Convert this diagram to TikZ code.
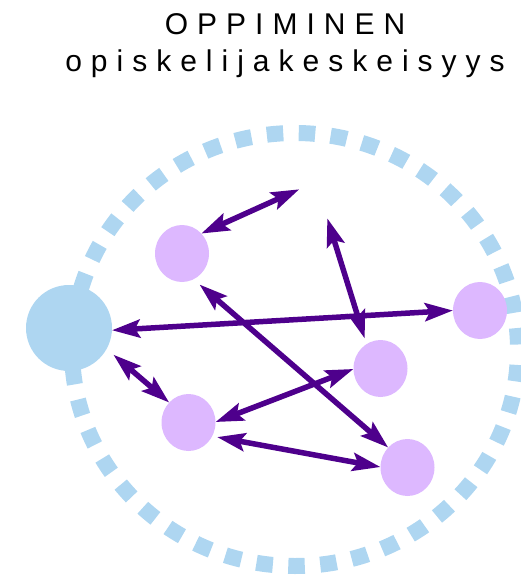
\documentclass[tikz,border=0pt]{standalone}
\usepackage{fontspec}
\setmainfont{Liberation Sans}
\usetikzlibrary{arrows.meta,shapes.geometric}
\definecolor{ringblue}{RGB}{174,214,241}
\definecolor{lilac}{RGB}{221,184,255}
\definecolor{indigo}{RGB}{78,0,140}
\tikzset{
    pupilnode/.style = {
        ellipse,
        fill=lilac,
        minimum width=54pt,
        minimum height=57pt,
        inner sep=0pt,
        outer sep=0pt
    },
    bignode/.style = {
        circle,
        fill=ringblue,
        minimum size=86pt,
        inner sep=0pt,
        outer sep=0pt
    },
    link/.style = {
        draw=indigo,
        line width=5.5pt,
        >={Stealth[length=28pt,width=18pt,inset=5pt]},
        <->
    },
    titletext/.style = {
        anchor=base,
        inner sep=0pt,
        font=\addfontfeature{LetterSpace=30}\fontsize{30}{36}\selectfont
    }
}
\begin{document}
\begin{tikzpicture}[x=1pt,y=-1pt]
    \useasboundingbox (0,0) rectangle (521,575);
    \node [titletext] (otsikko) at (285,35) {OPPIMINEN};
    \node [titletext] (alaotsikko) at (285,72) {opiskelijakeskeisyys};
    \draw [ringblue, line width=16pt, dash pattern=on 16.5pt off 15.5pt, dash phase=27pt]
        (295,349.5) ellipse [x radius=223pt, y radius=216.5pt];
    \node [bignode] (ope) at (69,328) {};
    \node [pupilnode] (p1) at (182,253.5) {};
    \node [pupilnode] (p2) at (188.5,422.5) {};
    \node [pupilnode] (p3) at (480,310.5) {};
    \node [pupilnode] (p4) at (380.5,368.5) {};
    \node [pupilnode] (p5) at (407.5,467.5) {};
    \coordinate (v1) at (299.3,189.3);
    \coordinate (v2) at (327.3,218.3);
    \draw [link] (p1.46) -- (v1);
    \draw [link, shorten <=6pt] (p4.120) -- (v2);
    \draw [link] (ope.-3) -- (p3.180);
    \draw [link, shorten <=9pt] (ope.-29) -- (p2.134);
    \draw [link, shorten <=8pt] (p1.-66) -- (p5.134);
    \draw [link] (p2.1) -- (p4.181);
    \draw [link, shorten <=5pt] (p2.-30) -- (p5.179);
\end{tikzpicture}
\end{document}
